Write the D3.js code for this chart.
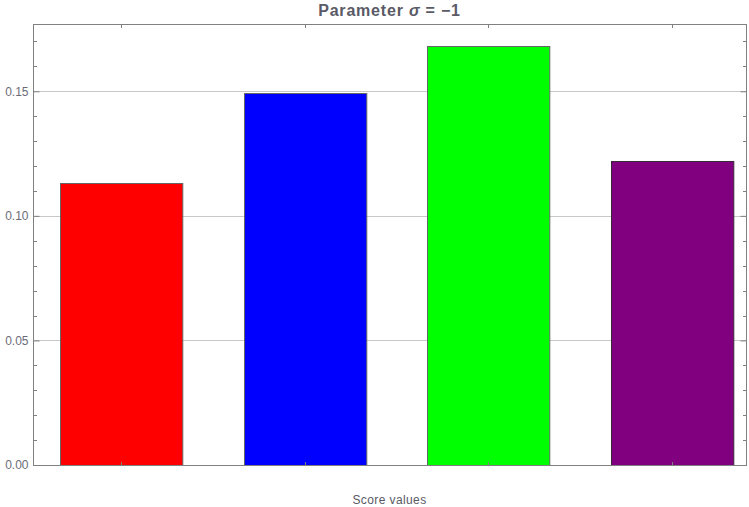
<!DOCTYPE html>
<html>
<head>
<meta charset="utf-8">
<script src="https://cdn.jsdelivr.net/npm/d3@7"></script>
<style>
  body { margin: 0; background: #fff; }
  text { font-family: 'Liberation Sans', Arial, sans-serif; }
</style>
</head>
<body>
<script>
const categories = ['A', 'B', 'C', 'D'];
const values = [0.1132, 0.1493, 0.1683, 0.1222];
const barColors = ['#ff0000', '#0000ff', '#00ff00', '#800080'];
const yTicks = [0, 0.05, 0.10, 0.15];
const yMinorTicks = d3.range(0, 0.1701, 0.01);

const box = {
  width: 749,
  height: 507,
  left: 33, right: 746, top: 24, bottom: 465
};

const svg = d3.select('body')
  .append('svg')
  .attr('width', box.width)
  .attr('height', box.height);

const x = d3.scaleBand()
  .domain(categories)
  .range([box.left, box.right])
  .paddingInner(1 / 3)
  .paddingOuter(0.11)
  .align(0.675);

const y = d3.scaleLinear()
  .domain([0, 0.177])
  .range([box.bottom, box.top]);

const minor = yMinorTicks.filter(d => !yTicks.some(t => Math.abs(t - d) < 1e-6));

// gridlines
svg.append('g')
  .selectAll('line')
  .data(yTicks.filter(d => d > 0))
  .join('line')
  .attr('x1', box.left)
  .attr('x2', box.right)
  .attr('y1', d => Math.round(y(d)) + 0.5)
  .attr('y2', d => Math.round(y(d)) + 0.5)
  .attr('stroke', '#c8c8c8')
  .attr('stroke-width', 1);

// bars
svg.append('g')
  .selectAll('rect')
  .data(values)
  .join('rect')
  .attr('x', (d, i) => Math.round(x(categories[i])) + 0.5)
  .attr('y', d => Math.round(y(d)) + 0.5)
  .attr('width', x.bandwidth())
  .attr('height', d => Math.round(y(0)) - Math.round(y(d)))
  .attr('fill', (d, i) => barColors[i])
  .attr('stroke', (d, i) => i === 3 ? '#3a2a3a' : '#666')
  .attr('stroke-width', 1);

// frame
svg.append('rect')
  .attr('x', box.left + 0.5)
  .attr('y', box.top + 0.5)
  .attr('width', box.right - box.left)
  .attr('height', box.bottom - box.top)
  .attr('fill', 'none')
  .attr('stroke', '#808080')
  .attr('stroke-width', 1);

// left axis
const left = svg.append('g')
  .attr('transform', `translate(${box.left + 0.5}, 0)`)
  .call(d3.axisRight(y).tickValues(yTicks).tickSize(6).tickFormat(d3.format('.2f')));
left.select('.domain').remove();
left.selectAll('line').attr('stroke', '#808080');
left.selectAll('text')
  .attr('x', -5)
  .attr('text-anchor', 'end')
  .attr('fill', '#6b6b78')
  .style('font-size', '12px');

svg.append('g')
  .selectAll('line')
  .data(minor)
  .join('line')
  .attr('x1', box.left)
  .attr('x2', box.left + 4)
  .attr('y1', d => Math.round(y(d)) + 0.5)
  .attr('y2', d => Math.round(y(d)) + 0.5)
  .attr('stroke', '#808080');

// right axis, ticks only
const right = svg.append('g')
  .attr('transform', `translate(${box.right + 0.5}, 0)`)
  .call(d3.axisLeft(y).tickValues(yTicks).tickSize(6).tickFormat(''));
right.select('.domain').remove();
right.selectAll('line').attr('stroke', '#808080');

svg.append('g')
  .selectAll('line')
  .data(minor)
  .join('line')
  .attr('x1', box.right - 3)
  .attr('x2', box.right)
  .attr('y1', d => Math.round(y(d)) + 0.5)
  .attr('y2', d => Math.round(y(d)) + 0.5)
  .attr('stroke', '#808080');

// top and bottom ticks at bar centres
const centres = categories.map(c => Math.round(x(c) + x.bandwidth() / 2) + 0.5);
svg.append('g')
  .selectAll('line')
  .data(centres)
  .join('line')
  .attr('x1', d => d).attr('x2', d => d)
  .attr('y1', box.top).attr('y2', box.top + 4)
  .attr('stroke', '#808080');
svg.append('g')
  .selectAll('line')
  .data(centres)
  .join('line')
  .attr('x1', d => d).attr('x2', d => d)
  .attr('y1', box.bottom - 3).attr('y2', box.bottom)
  .attr('stroke', '#808080');

// title
const title = svg.append('text')
  .attr('x', (box.left + box.right) / 2)
  .attr('y', 16)
  .attr('text-anchor', 'middle')
  .attr('fill', '#5a5a66')
  .style('font-size', '16px')
  .style('letter-spacing', '0.8px')
  .style('font-weight', 'bold');
title.append('tspan').text('Parameter ');
title.append('tspan').style('font-style', 'italic').text('σ');
title.append('tspan').text(' = −1');

// x label
svg.append('text')
  .attr('x', (box.left + box.right) / 2)
  .attr('y', 504)
  .attr('text-anchor', 'middle')
  .attr('fill', '#5a5a66')
  .style('font-size', '12px')
  .style('letter-spacing', '0.4px')
  .text('Score values');
</script>
</body>
</html>
